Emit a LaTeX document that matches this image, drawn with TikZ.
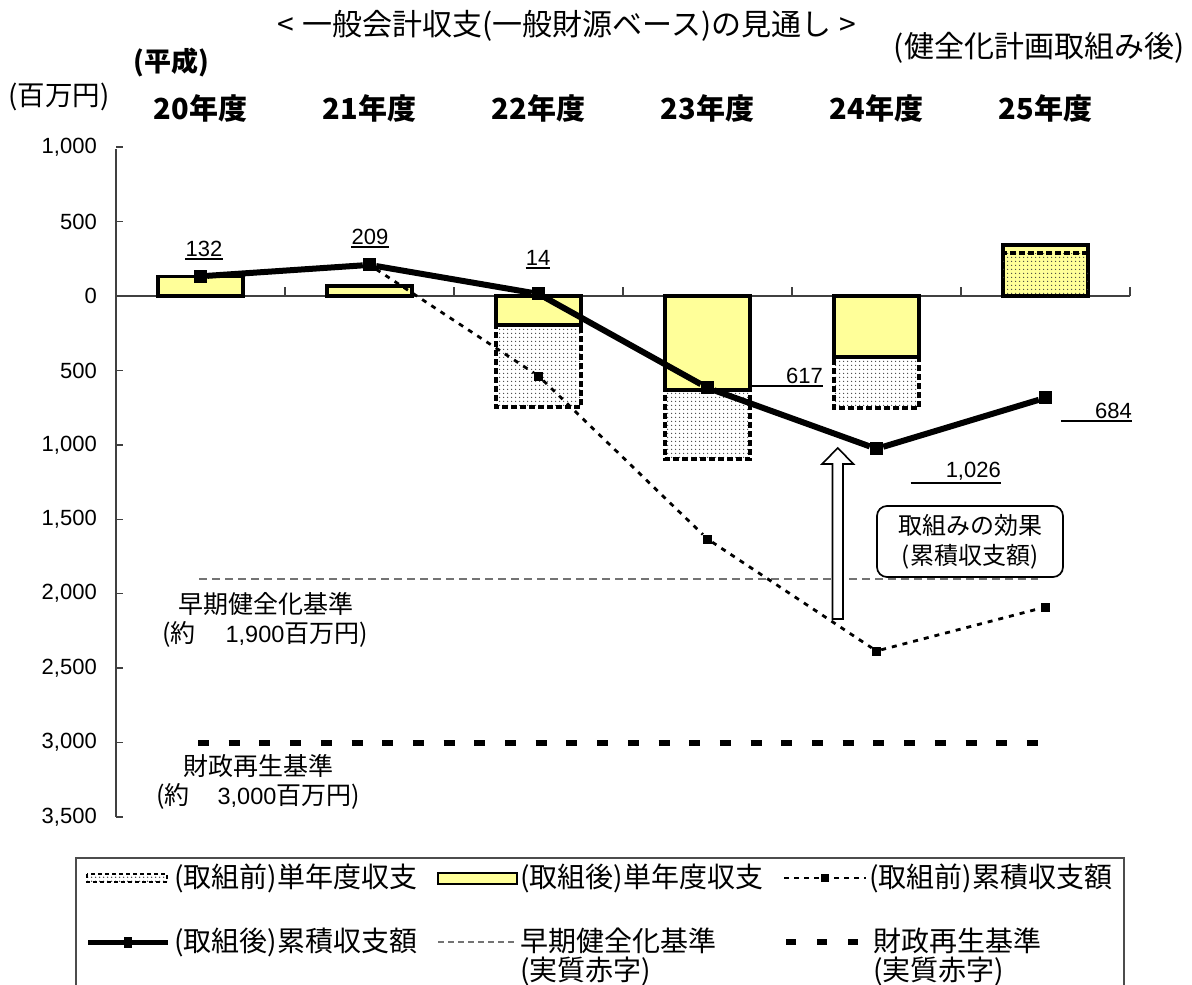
\documentclass[tikz,border=0pt]{standalone}
\usepackage{fontspec}
\setmainfont{Liberation Sans}
\newfontfamily\jp{Noto Sans CJK JP}
\usetikzlibrary{patterns.meta}
\definecolor{ylw}{RGB}{255,255,153}
\newcommand\fsz[1]{\fontsize{#1}{#1}\selectfont}
\tikzdeclarepattern{
  name=mydots,
  type=uncolored,
  bounding box={(-2pt,-2pt) and (2pt,2pt)},
  tile size={(4pt,4pt)},
  code={\pgfpathcircle{\pgfpointorigin}{0.8pt}\pgfusepath{fill}}
}
\begin{document}
\begin{tikzpicture}[x=1pt,y=-1pt,
  axis/.style={draw=black!75, line width=1.4pt},
  ybar/.style={fill=ylw, draw=black, line width=3.2pt},
  dbar/.style={pattern=mydots, pattern color=black!75, draw=black, line width=3.4pt, dash pattern=on 6pt off 3pt},
  amark/.style={rectangle, fill=black, inner sep=0pt, minimum size=13pt},
  bmark/.style={rectangle, fill=black, inner sep=0pt, minimum size=9pt},
  aline/.style={line width=6pt},
  bline/.style={line width=2.8pt, dash pattern=on 5pt off 6pt},
  eline/.style={draw=black!55, line width=1.4pt, dash pattern=on 8pt off 5pt},
  fline/.style={line width=6pt, dash pattern=on 11pt off 19.7pt},
  ylab/.style={anchor=east, font=\fsz{22}, inner sep=0pt},
  yr/.style={font=\jp\bfseries\fsz{29}},
  ulab/.style={font=\fsz{22}, inner xsep=0pt, inner ysep=2pt,
    append after command={(\tikzlastnode.south west) edge[draw, line width=2pt] (\tikzlastnode.south east)}},
  jl/.style={font=\jp\fsz{25}, inner sep=0pt},
  lg/.style={font=\jp\fontsize{28}{29}\selectfont, inner sep=0pt, anchor=west, align=left},
]
\useasboundingbox (0,0) rectangle (1192,985);

% titles
\node[font=\jp\fsz{30}] (title) at (567,26) {<\hspace{8pt}一般会計収支(一般財源ベース)の見通し\hspace{8pt}>};
\node[font=\jp\fsz{30}] (after) at (1039,48) {(健全化計画取組み後)};
\node[font=\jp\bfseries\fsz{27}] (heisei) at (171,62) {(平成)};
\node[font=\jp\fsz{27.5}] (unit) at (59,97) {(百万円)};
\foreach \y [count=\i from 0] in {20,...,25}
  \node[yr] (yr\y) at (200.5+169*\i,108) {\y 年度};

% axes
\draw[axis] (116,148.8) -- (116,817);
\draw[axis] (116,296) -- (1130,296);
\foreach \t [count=\k from -2] in {{1,000},500,0,500,{1,000},{1,500},{2,000},{2,500},{3,000},{3,500}} {
  \node[ylab] (yl\k) at (97,296+74.43*\k) {\t};
  \draw[axis] (116,296+74.43*\k) -- (123,296+74.43*\k);
}
\foreach \i in {1,...,6}
  \draw[axis] (116+169*\i,296) -- (116+169*\i,287);

% criteria lines
\coordinate (e1) at (199,579);
\coordinate (e2) at (1038,579);
\draw[eline] (e1) -- (e2);
\coordinate (f1) at (198,743);
\coordinate (f2) at (1050,743);
\draw[fline] (f1) -- (f2);
\node[jl] (elab) at (266,604) {早期健全化基準};
\node[jl] (eval) at (265,634) {(約\hspace{30pt}{\rmfamily\fsz{23.5}1,900}百万円)};
\node[jl] (flab) at (258,766) {財政再生基準};
\node[jl] (fval) at (258,796) {(約\hspace{28pt}{\rmfamily\fsz{23.5}3,000}百万円)};

% bars before (dotted)
\path[dbar] (496,296) rectangle (581,407);
\path[dbar] (665,296) rectangle (750,459);
\path[dbar] (834,296) rectangle (919,408);
% bars after (yellow)
\path[ybar] (158,276.3) rectangle (243,296);
\path[ybar] (327,286) rectangle (412,296);
\path[ybar] (496,296) rectangle (581,325);
\path[ybar] (665,296) rectangle (750,390);
\path[ybar] (834,296) rectangle (919,357);
\path[ybar] (1003,245) rectangle (1088,296);
\path[dbar] (1003,253) rectangle (1088,296);

% markers
\node[amark] (a20) at (200.5,276.3) {};
\node[amark] (a21) at (369.5,264.9) {};
\node[amark] (a22) at (538.5,293.9) {};
\node[amark] (a23) at (707.5,387.9) {};
\node[amark] (a24) at (876.5,448.8) {};
\node[amark] (a25) at (1045.5,397.8) {};
\node[bmark] (b22) at (538.5,376) {};
\node[bmark] (b23) at (707.5,539) {};
\node[bmark] (b24) at (876.5,651) {};
\node[bmark] (b25) at (1045.5,607) {};
\draw[bline] (a21) -- (b22) -- (b23) -- (b24) -- (b25);
\draw[aline] (a20) -- (a21) -- (a22) -- (a23) -- (a24) -- (a25);

% data labels
\node[ulab, anchor=south] (v20) at (204,258.5) {132};
\node[ulab, anchor=south] (v21) at (370,246.5) {209};
\node[ulab, anchor=south] (v22) at (538,268) {14};
\node[ulab, anchor=south east] (v23) at (823,385.5) {\hspace{34pt}617};
\node[ulab, anchor=south east] (v25) at (1132,420.5) {\hspace{34pt}684};
\node[ulab, anchor=south east] (v24) at (1001,482.5) {\hspace{35pt}1,026};

% effect arrow and callout
\draw[line width=1.6pt, fill=white] (832.5,619) -- (832.5,464) -- (822,464) -- (837.75,448)
  -- (853.5,464) -- (843,464) -- (843,619) -- cycle;
\node[draw, rounded corners=10pt, line width=1.7pt, fill=white, minimum width=186pt,
  minimum height=71pt, align=center, font=\jp\fontsize{24}{30}\selectfont] (eff) at (970,541.5)
  {取組みの効果\\(累積収支額)};

% legend
\draw[draw=black!70, line width=1.5pt] (76,990) -- (76,858) -- (1124,858) -- (1124,990);
\path[dbar, line width=2.6pt, dash pattern=on 4pt off 3pt] (87,874) rectangle (167,882);
\node[lg] (l1) at (174,878) {(取組前)単年度収支};
\path[ybar, line width=2.6pt] (438,873) rectangle (517,884);
\node[lg] (l2) at (520,878) {(取組後)単年度収支};
\coordinate (s3a) at (784,878); \coordinate (s3b) at (866,878);
\draw[line width=2.6pt, dash pattern=on 5pt off 5pt] (s3a) -- (s3b);
\node[bmark, minimum size=8.5pt] (m3) at (825,878) {};
\node[lg] (l3) at (869,878) {(取組前)累積収支額};
\coordinate (s4a) at (88,942); \coordinate (s4b) at (168,942);
\draw[aline, line width=5pt] (s4a) -- (s4b);
\node[amark, minimum width=8.5pt, minimum height=11pt] (m4) at (128,942) {};
\node[lg] (l4) at (174,942) {(取組後)累積収支額};
\coordinate (s5a) at (438,942); \coordinate (s5b) at (514,942);
\draw[eline, dash pattern=on 6pt off 4pt] (s5a) -- (s5b);
\node[lg] (l5) at (520,956.5) {早期健全化基準\\(実質赤字)};
\coordinate (s6a) at (786,942); \coordinate (s6b) at (858,942);
\draw[line width=6pt, dash pattern=on 10pt off 21pt] (s6a) -- (s6b);
\node[lg] (l6) at (873,956.5) {財政再生基準\\(実質赤字)};
\end{tikzpicture}
\end{document}
